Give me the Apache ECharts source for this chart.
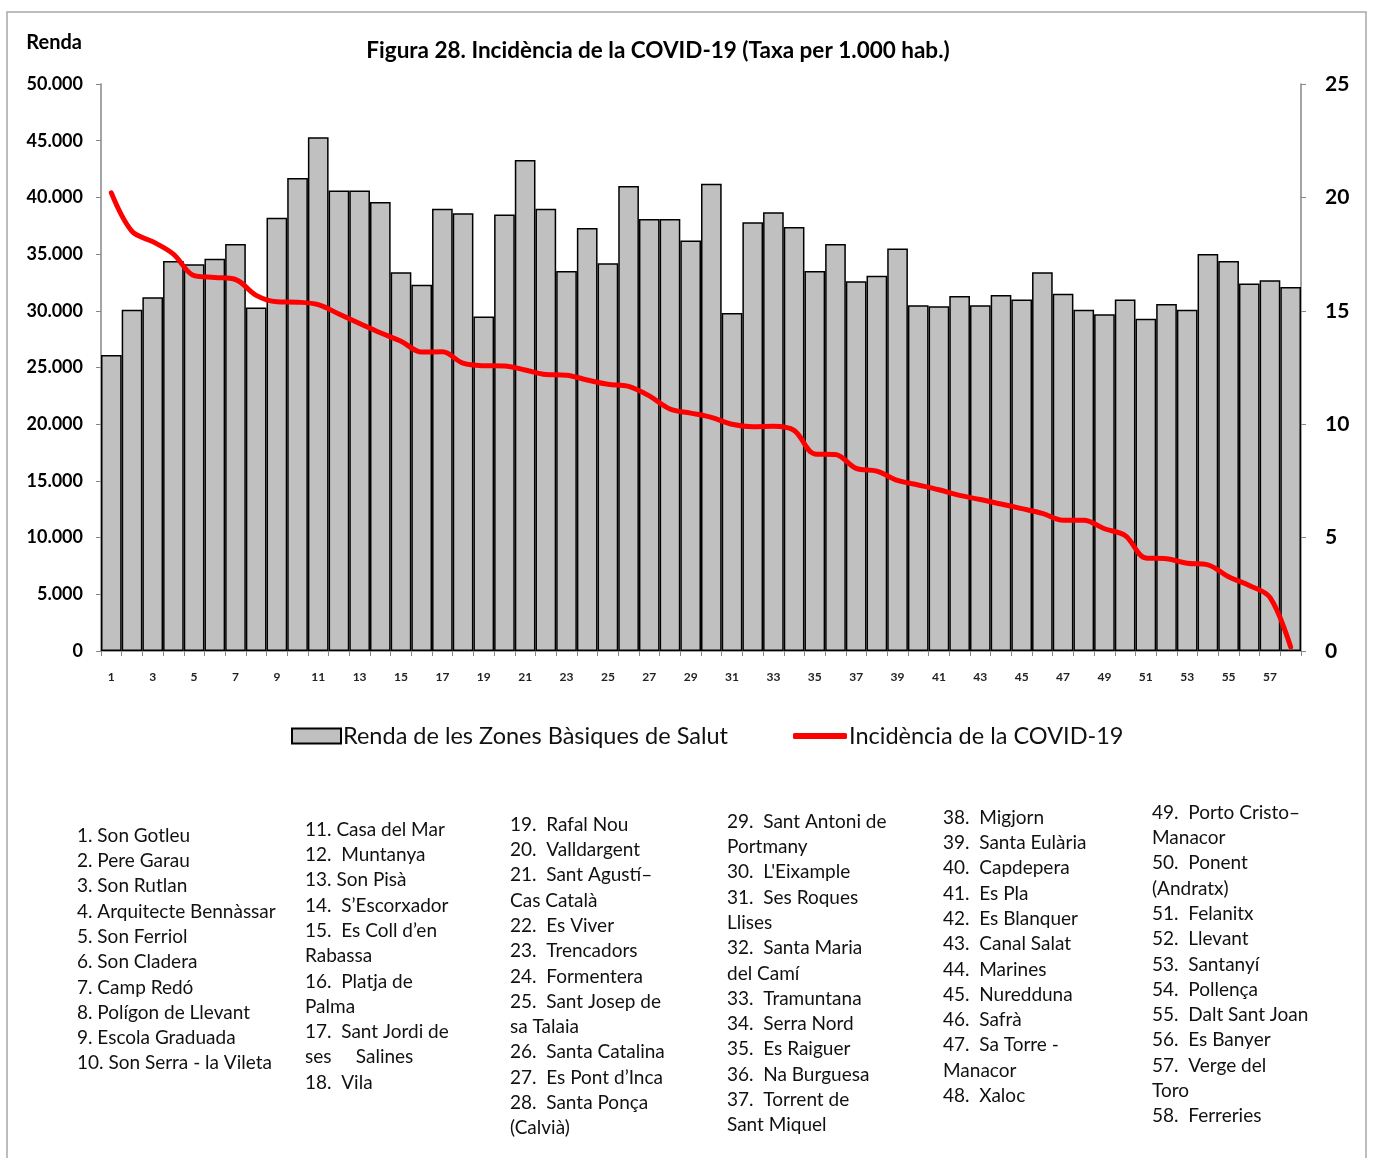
<!DOCTYPE html>
<html>
<head>
<meta charset="utf-8">
<script src="https://cdn.jsdelivr.net/npm/echarts@6/dist/echarts.min.js"></script>
<style>
  html, body { margin: 0; padding: 0; background: #fff; }
  #chart { width: 1373px; height: 1158px; }
</style>
</head>
<body>
<div id="chart"></div>
<script>
// zones 1..58
const categories = Array.from({ length: 58 }, (_, i) => String(i + 1))

// Renda de les Zones Bàsiques de Salut (left axis)
const rendaValues = [
  26100, 30100, 31200, 34400, 34100, 34600, 35900, 30300, 38200, 41700,
  45300, 40600, 40600, 39600, 33400, 32300, 39000, 38600, 29500, 38500,
  43300, 39000, 33500, 37300, 34200, 41000, 38100, 38100, 36200, 41200,
  29800, 37800, 38700, 37400, 33500, 35900, 32600, 33100, 35500, 30500,
  30400, 31300, 30500, 31400, 31000, 33400, 31500, 30100, 29700, 31000,
  29300, 30600, 30100, 35000, 34400, 32400, 32700, 32100
]

// Incidència de la COVID-19, taxa per 1.000 hab. (right axis)
const incidenceValues = [
  20.2, 18.5, 18.05, 17.5, 16.55, 16.47, 16.38, 15.68, 15.4, 15.38,
  15.27, 14.86, 14.44, 14.03, 13.66, 13.18, 13.19, 12.69, 12.58, 12.57,
  12.39, 12.19, 12.16, 11.95, 11.76, 11.67, 11.25, 10.67, 10.49, 10.3,
  10.0, 9.89, 9.91, 9.73, 8.69, 8.66, 8.05, 7.93, 7.52, 7.32,
  7.11, 6.86, 6.68, 6.48, 6.28, 6.07, 5.77, 5.77, 5.39, 5.09,
  4.1, 4.07, 3.87, 3.8, 3.27, 2.89, 2.36, 0.18
]

const zoneNames = [
  '1. Son Gotleu', '2. Pere Garau', '3. Son Rutlan', '4. Arquitecte Bennàssar', '5. Son Ferriol',
  '6. Son Cladera', '7. Camp Redó', '8. Polígon de Llevant', '9. Escola Graduada', '10. Son Serra - la Vileta',
  '11. Casa del Mar', '12.  Muntanya', '13. Son Pisà', '14.  S’Escorxador', '15.  Es Coll d’en\nRabassa',
  '16.  Platja de\nPalma', '17.  Sant Jordi de\nses     Salines', '18.  Vila',
  '19.  Rafal Nou', '20.  Valldargent', '21.  Sant Agustí–\nCas Català', '22.  Es Viver', '23.  Trencadors',
  '24.  Formentera', '25.  Sant Josep de\nsa Talaia', '26.  Santa Catalina', '27.  Es Pont d’Inca', '28.  Santa Ponça\n(Calvià)',
  '29.  Sant Antoni de\nPortmany', '30.  L\'Eixample', '31.  Ses Roques\nLlises', '32.  Santa Maria\ndel Camí', '33.  Tramuntana',
  '34.  Serra Nord', '35.  Es Raiguer', '36.  Na Burguesa', '37.  Torrent de\nSant Miquel',
  '38.  Migjorn', '39.  Santa Eulària', '40.  Capdepera', '41.  Es Pla', '42.  Es Blanquer', '43.  Canal Salat',
  '44.  Marines', '45.  Nuredduna', '46.  Safrà', '47.  Sa Torre -\nManacor', '48.  Xaloc',
  '49.  Porto Cristo–\nManacor', '50.  Ponent\n(Andratx)', '51.  Felanitx', '52.  Llevant', '53.  Santanyí',
  '54.  Pollença', '55.  Dalt Sant Joan', '56.  Es Banyer', '57.  Verge del\nToro', '58.  Ferreries'
]

// which names go in each column of the key, and where each column sits
const keyColumns = [
  { from: 0, to: 10, x: 77, y: 823 },
  { from: 10, to: 18, x: 305, y: 817 },
  { from: 18, to: 28, x: 510, y: 812 },
  { from: 28, to: 37, x: 727, y: 809 },
  { from: 37, to: 48, x: 943, y: 805 },
  { from: 48, to: 58, x: 1152, y: 800 }
]

const fontFamily = 'Lato, "Open Sans", sans-serif'
const axisGray = '#868686'

const fmtThousands = v => String(v).replace(/\B(?=(\d{3})+(?!\d))/g, '.')

const chart = echarts.init(document.getElementById('chart'))

const keyTexts = keyColumns.map(c => ({
  type: 'text',
  left: c.x,
  top: c.y,
  style: {
    text: zoneNames.slice(c.from, c.to).join('\n'),
    font: '19px ' + fontFamily,
    lineHeight: 25.3,
    fill: '#111'
  }
}))

const legendText = { fontSize: 23.5, color: '#111', fontFamily, padding: [0, 0, 0, -3] }

const option = {
  animation: false,
  backgroundColor: '#fff',
  textStyle: { fontFamily },
  title: {
    text: 'Figura 28. Incidència de la COVID-19 (Taxa per 1.000 hab.)',
    left: 653,
    top: 34,
    textAlign: 'center',
    textStyle: { fontSize: 22.5, fontWeight: 'bold', color: '#000', fontFamily }
  },
  grid: {
    left: 101,
    right: 72,
    top: 84,
    bottom: 507
  },
  legend: [
    {
      left: 291,
      top: 724,
      padding: 0,
      itemWidth: 49,
      itemHeight: 15,
      textStyle: legendText,
      data: [{ name: 'Renda de les Zones Bàsiques de Salut', icon: 'rect' }]
    },
    {
      left: 793,
      top: 724,
      padding: 0,
      itemWidth: 54,
      itemHeight: 6,
      textStyle: legendText,
      data: [{ name: 'Incidència de la COVID-19', icon: 'roundRect' }]
    }
  ],
  xAxis: {
    type: 'category',
    data: categories,
    boundaryGap: true,
    axisLine: { lineStyle: { color: axisGray, width: 1.5 } },
    axisTick: { show: true, interval: 0, length: 5, lineStyle: { color: axisGray } },
    axisLabel: {
      interval: 1,
      margin: 20,
      fontSize: 12,
      fontWeight: 'bold',
      color: '#222',
      fontFamily
    }
  },
  yAxis: [
    {
      type: 'value',
      min: 0,
      max: 50000,
      interval: 5000,
      name: 'Renda',
      nameLocation: 'end',
      nameGap: 31,
      nameTextStyle: { fontSize: 20, fontWeight: 'bold', color: '#000', align: 'right', padding: [0, 19, 0, 0], fontFamily },
      splitLine: { show: false },
      axisLine: { show: true, lineStyle: { color: axisGray, width: 1.5 } },
      axisTick: { show: true, length: 5, lineStyle: { color: axisGray } },
      axisLabel: {
        margin: 18,
        fontSize: 18,
        fontWeight: 'bold',
        color: '#000',
        fontFamily,
        formatter: v => fmtThousands(v)
      }
    },
    {
      type: 'value',
      min: 0,
      max: 25,
      interval: 5,
      position: 'right',
      splitLine: { show: false },
      axisLine: { show: true, lineStyle: { color: axisGray, width: 1.5 } },
      axisTick: { show: true, length: 5, lineStyle: { color: axisGray } },
      axisLabel: {
        margin: 24,
        fontSize: 21,
        fontWeight: 'bold',
        color: '#000',
        fontFamily
      }
    }
  ],
  series: [
    {
      name: 'Renda de les Zones Bàsiques de Salut',
      type: 'bar',
      data: rendaValues,
      barCategoryGap: '0%',
      itemStyle: { color: '#C0C0C0', borderColor: '#000', borderWidth: 1.5 }
    },
    {
      name: 'Incidència de la COVID-19',
      type: 'line',
      yAxisIndex: 1,
      data: incidenceValues,
      smooth: 0.35,
      symbol: 'none',
      lineStyle: { color: '#FF0000', width: 5, cap: 'round', join: 'round' },
      itemStyle: { color: '#FF0000' },
      z: 5
    }
  ],
  graphic: [
    {
      type: 'rect',
      shape: { x: 7, y: 12, width: 1359, height: 1170 },
      style: { fill: 'none', stroke: '#ACA7A2', lineWidth: 1.5 },
      silent: true
    },
    ...keyTexts
  ]
}

chart.setOption(option)
</script>
</body>
</html>
